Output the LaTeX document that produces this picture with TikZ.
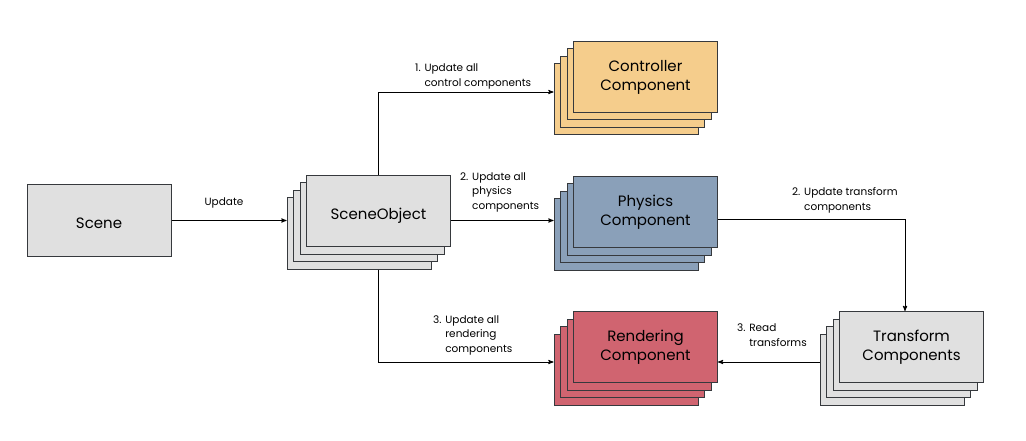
\documentclass[tikz,border=0pt]{standalone}
\usepackage{fontspec}
\setmainfont{Poppins}
\usepackage{tikz}
\usetikzlibrary{arrows}

\definecolor{boxgray}{HTML}{E0E0E0}
\definecolor{ctrlc}{HTML}{F5CD8C}
\definecolor{physc}{HTML}{8AA0B9}
\definecolor{rendc}{HTML}{D06470}
\definecolor{edgec}{HTML}{36393D}

\begin{document}
\begin{tikzpicture}
		[x=1pt,y=-1pt,
		card/.style={font=\fontsize{15}{19}\selectfont,align=center,minimum width=144pt,minimum height=71pt,inner sep=0pt,draw=edgec,line width=1pt},
		one/.style={text height=18pt,text depth=2pt},
		lbl/.style={font=\fontsize{10.5}{14.5}\selectfont,inner sep=0pt,anchor=west},
		conn/.style={-stealth',line width=0.9pt}]

		\useasboundingbox (0,0) rectangle (1026,441);

		\node[card,one,fill=boxgray] (scene) at (99,220.5) {Scene};

		% stacked cards, back to front
		\foreach \i in {3,2,1}
			\node[card,fill=boxgray] (obj\i) at ([shift={(-6.5*\i,7.5*\i)}]378.5,211) {};
		\node[card,one,fill=boxgray] (obj) at (378.5,211) {SceneObject};

		\foreach \i in {3,2,1}
			\node[card,fill=ctrlc] (ctrl\i) at ([shift={(-6.5*\i,7.5*\i)}]645.5,77) {};
		\node[card,fill=ctrlc] (ctrl) at (645.5,77) {Controller\\Component};

		\foreach \i in {3,2,1}
			\node[card,fill=physc] (phys\i) at ([shift={(-6.5*\i,7.5*\i)}]645.5,212) {};
		\node[card,fill=physc] (phys) at (645.5,212) {Physics\\Component};

		\foreach \i in {3,2,1}
			\node[card,fill=rendc] (rend\i) at ([shift={(-6.5*\i,7.5*\i)}]645.5,347) {};
		\node[card,fill=rendc] (rend) at (645.5,347) {Rendering\\Component};

		\foreach \i in {3,2,1}
			\node[card,fill=boxgray] (trans\i) at ([shift={(-6.5*\i,7.5*\i)}]911.5,347) {};
		\node[card,fill=boxgray] (trans) at (911.5,347) {Transform\\Components};

		% connectors
		\draw[conn] (scene) -- (obj3.west |- scene);
		\draw[conn] (obj.north) |- (ctrl3.west |- ctrl2);
		\draw[conn] (obj.east |- scene) -- (phys3.west |- scene);
		\draw[conn] (obj3.south -| obj) |- (rend3.west |- rend2);
		\draw[conn] (phys.east |- phys1) -| (trans.north -| trans1);
		\draw[conn] (trans3.west |- rend2) -- (rend.east |- rend2);

		% labels
		\node[lbl,anchor=center] (lup) at (224,203) {Update};
		\node[lbl] (lctrl) at (415,76) {\begin{tabular}{@{}l@{ }l@{}}1. & Update all\\ & control components\end{tabular}};
		\node[lbl] (lphys) at (460,192) {\begin{tabular}{@{}l@{ }l@{}}2. & Update all\\ & physics\\ & components\end{tabular}};
		\node[lbl] (lrend) at (433,335) {\begin{tabular}{@{}l@{ }l@{}}3. & Update all\\ & rendering\\ & components\end{tabular}};
		\node[lbl] (ltrans) at (792,200) {\begin{tabular}{@{}l@{ }l@{}}2. & Update transform\\ & components\end{tabular}};
		\node[lbl] (lread) at (737,336) {\begin{tabular}{@{}l@{ }l@{}}3. & Read\\ & transforms\end{tabular}};
\end{tikzpicture}
\end{document}
